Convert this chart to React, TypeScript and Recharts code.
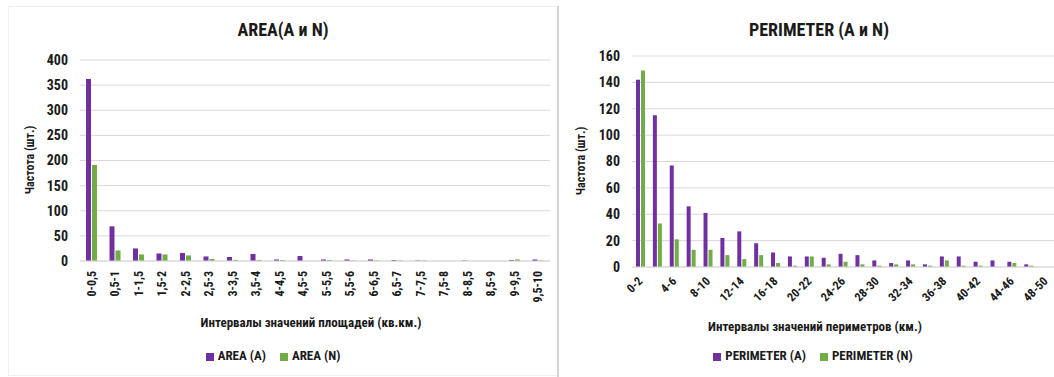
import { BarChart, Bar, XAxis, YAxis, CartesianGrid, Legend } from 'recharts'

const FONT = "'Liberation Sans Narrow', 'Roboto Condensed', 'Liberation Sans', Arial, sans-serif"
const PURPLE = '#7030a0'
const GREEN = '#70ad47'
const INK = '#1a1a1a'

const areaCategories = ['0-0,5', '0,5-1', '1-1,5', '1,5-2', '2-2,5', '2,5-3', '3-3,5', '3,5-4', '4-4,5', '4,5-5',
  '5-5,5', '5,5-6', '6-6,5', '6,5-7', '7-7,5', '7,5-8', '8-8,5', '8,5-9', '9-9,5', '9,5-10']
const areaA = [362, 69, 25, 15, 16, 9, 8, 14, 3, 10, 3, 3, 3, 2, 1, 0, 1, 0, 2, 3]
const areaN = [191, 21, 13, 13, 11, 4, 2, 2, 2, 0, 2, 1, 1, 1, 1, 0, 0, 0, 3, 1]
const areaTicks = [0, 50, 100, 150, 200, 250, 300, 350, 400]

const perimCategories = ['0-2', '2-4', '4-6', '6-8', '8-10', '10-12', '12-14', '14-16', '16-18', '18-20',
  '20-22', '22-24', '24-26', '26-28', '28-30', '30-32', '32-34', '34-36', '36-38', '38-40',
  '40-42', '42-44', '44-46', '46-48', '48-50']
const perimA = [142, 115, 77, 46, 41, 22, 27, 18, 11, 8, 8, 7, 10, 9, 5, 3, 5, 2, 8, 8, 4, 5, 4, 2, 0]
const perimN = [149, 33, 21, 13, 13, 9, 6, 9, 3, 1, 8, 2, 4, 2, 1, 2, 2, 1, 5, 1, 1, 0, 3, 1, 0]
const perimTicks = [0, 20, 40, 60, 80, 100, 120, 140, 160]

const areaData = areaCategories.map((c, i) => ({ c, a: areaA[i], n: areaN[i] }))
const perimData = perimCategories.map((c, i) => ({ c, a: perimA[i], n: perimN[i] }))

function RotTick({ x, y, payload, angle }: any) {
  return (
    <g transform={`translate(${x},${y})`}>
      <text transform={`rotate(${angle})`} textAnchor="end" dy="0.35em"
        style={{ fontFamily: FONT, fontSize: 12, fontWeight: 700, fill: INK }}>
        {payload.value}
      </text>
    </g>
  )
}

const legendText = (v: string) => <span style={{ color: INK, marginRight: 4 }}>{v}</span>

function Caption({ x, y, size, children }: { x: number; y: number; size: number; children: string }) {
  return (
    <div style={{
      position: 'absolute', left: x - 200, top: y, width: 400, textAlign: 'center',
      fontFamily: FONT, fontSize: size, fontWeight: 700, color: INK, whiteSpace: 'nowrap',
    }}>
      {children}
    </div>
  )
}

function YTitle({ x, y }: { x: number; y: number }) {
  return (
    <div style={{
      position: 'absolute', left: x - 60, top: y - 8, width: 120, height: 16, lineHeight: '16px',
      textAlign: 'center', transform: 'rotate(-90deg)',
      fontFamily: FONT, fontSize: 12, fontWeight: 700, color: INK,
    }}>
      Частота (шт.)
    </div>
  )
}

const tickStyle = { fontFamily: FONT, fontSize: 14, fontWeight: 700, fill: INK }

export default function App() {
  return (
    <div style={{ position: 'absolute', left: 0, top: 0, width: 1054, height: 377, background: '#fff', overflow: 'hidden' }}>
      <div style={{ position: 'absolute', left: 8, top: 6, width: 549, height: 368, border: '1px solid #f0f0f0' }} />
      <div style={{ position: 'absolute', left: 557, top: 6, width: 2, height: 371, background: '#d4d4d4' }} />

      <div style={{ position: 'absolute', left: 0, top: 0 }}>
        <BarChart width={558} height={377} data={areaData} margin={{ top: 60, right: 8, bottom: 51, left: 0 }}
          barSize={5} barGap={1}>
          <CartesianGrid vertical={false} stroke="#d9d9d9" />
          <XAxis dataKey="c" interval={0} tickLine={false} axisLine={{ stroke: '#d9d9d9' }} height={50} tickMargin={4}
            tick={<RotTick angle={-90} />} />
          <YAxis width={80} domain={[0, 400]} ticks={areaTicks} interval={0} axisLine={false} tickLine={false} tickMargin={6}
            tick={tickStyle} />
          <Legend verticalAlign="bottom" iconType="square" iconSize={8} formatter={legendText}
            wrapperStyle={{ bottom: 14, left: 0, width: 560, fontFamily: FONT, fontSize: 13, fontWeight: 700 }} />
          <Bar dataKey="a" name="AREA (A)" fill={PURPLE} isAnimationActive={false} />
          <Bar dataKey="n" name="AREA (N)" fill={GREEN} isAnimationActive={false} />
        </BarChart>
      </div>

      <div style={{ position: 'absolute', left: 558, top: 0 }}>
        <BarChart width={496} height={377} data={perimData} margin={{ top: 56, right: 0, bottom: 45, left: 0 }}
          barSize={4} barGap={1}>
          <CartesianGrid vertical={false} stroke="#d9d9d9" />
          <XAxis dataKey="c" interval={1} tickLine={false} axisLine={{ stroke: '#d9d9d9' }} height={50} tickMargin={6}
            tick={<RotTick angle={-45} />} />
          <YAxis width={74} domain={[0, 160]} ticks={perimTicks} interval={0} axisLine={false} tickLine={false} tickMargin={6}
            tick={tickStyle} />
          <Legend verticalAlign="bottom" iconType="square" iconSize={8} formatter={legendText}
            wrapperStyle={{ bottom: 14, left: 0, width: 524, fontFamily: FONT, fontSize: 13, fontWeight: 700 }} />
          <Bar dataKey="a" name="PERIMETER (A)" fill={PURPLE} isAnimationActive={false} />
          <Bar dataKey="n" name="PERIMETER (N)" fill={GREEN} isAnimationActive={false} />
        </BarChart>
      </div>

      <Caption x={283} y={19} size={18}>AREA(A и N)</Caption>
      <Caption x={819} y={19} size={18}>PERIMETER (A и N)</Caption>
      <Caption x={311} y={315} size={13}>Интервалы значений площадей (кв.км.)</Caption>
      <Caption x={815} y={319} size={13}>Интервалы значений периметров (км.)</Caption>
      <YTitle x={30} y={160} />
      <YTitle x={581} y={161} />
    </div>
  )
}
